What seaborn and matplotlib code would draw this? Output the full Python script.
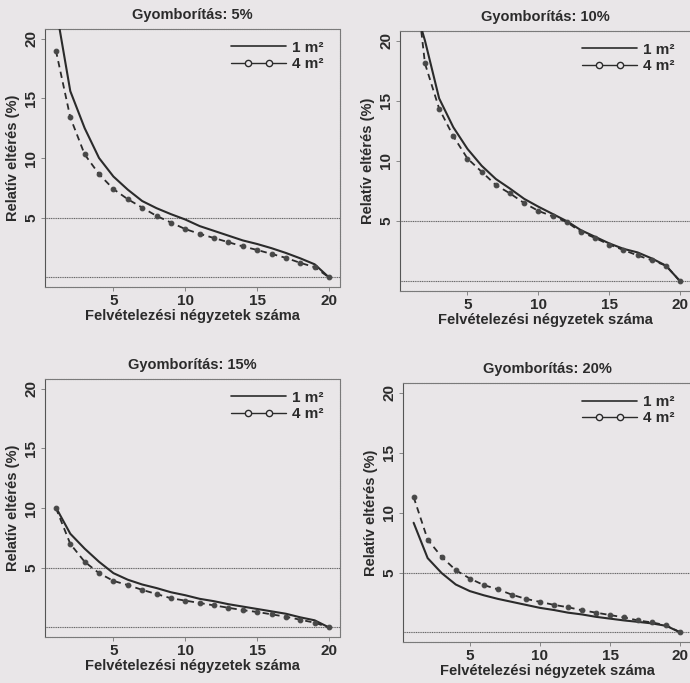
import matplotlib
matplotlib.use("Agg")
import matplotlib.pyplot as plt
from matplotlib.lines import Line2D
from matplotlib.legend_handler import HandlerLine2D, HandlerTuple
import seaborn as sns
import pandas as pd

sns.set_theme(style="white")
plt.rcParams["font.family"] = ["Liberation Sans", "DejaVu Sans"]
plt.rcParams["font.weight"] = "bold"

# Number of sampling quadrats
quadrats = list(range(1, 21))

# Relative deviation (%) for 1 m2 and 4 m2 quadrats, by weed cover
cover_titles = ["Gyomborítás: 5%", "Gyomborítás: 10%",
                "Gyomborítás: 15%", "Gyomborítás: 20%"]

dev_5_1m = [22.6, 15.6, 12.5, 10.0, 8.45, 7.35, 6.4, 5.8, 5.3, 4.85,
            4.3, 3.9, 3.5, 3.1, 2.8, 2.45, 2.05, 1.6, 1.1, 0.0]
dev_5_4m = [19.0, 13.4, 10.3, 8.65, 7.4, 6.55, 5.85, 5.15, 4.6, 4.05,
            3.65, 3.3, 2.95, 2.6, 2.3, 1.97, 1.64, 1.22, 0.86, 0.0]

dev_10_1m = [24.0, 20.0, 15.2, 12.8, 11.0, 9.6, 8.5, 7.7, 6.85, 6.2,
             5.6, 5.0, 4.25, 3.7, 3.15, 2.7, 2.4, 1.9, 1.3, 0.0]
dev_10_4m = [28.5, 18.1, 14.35, 12.05, 10.2, 9.1, 8.0, 7.3, 6.5, 5.85,
             5.4, 4.93, 4.1, 3.6, 3.05, 2.6, 2.15, 1.75, 1.3, 0.0]

dev_15_1m = [10.05, 7.85, 6.6, 5.5, 4.55, 4.0, 3.6, 3.3, 2.95, 2.7,
             2.4, 2.2, 1.95, 1.75, 1.55, 1.35, 1.15, 0.85, 0.6, 0.0]
dev_15_4m = [10.0, 7.0, 5.5, 4.55, 3.9, 3.55, 3.15, 2.8, 2.45, 2.25,
             2.05, 1.85, 1.65, 1.45, 1.3, 1.1, 0.9, 0.65, 0.4, 0.0]

dev_20_1m = [9.15, 6.2, 4.95, 4.0, 3.45, 3.1, 2.8, 2.55, 2.3, 2.05,
             1.87, 1.65, 1.5, 1.3, 1.15, 1.0, 0.88, 0.75, 0.55, 0.0]
dev_20_4m = [11.3, 7.75, 6.3, 5.2, 4.5, 3.95, 3.6, 3.15, 2.8, 2.55,
             2.3, 2.1, 1.85, 1.65, 1.45, 1.25, 1.0, 0.83, 0.6, 0.0]

series_1m = [dev_5_1m, dev_10_1m, dev_15_1m, dev_20_1m]
series_4m = [dev_5_4m, dev_10_4m, dev_15_4m, dev_20_4m]

x_ticks = [5, 10, 15, 20]
y_ticks = [5, 10, 15, 20]
ref_levels = [5, 0]
legend_labels = ["1 m²", "4 m²"]

paper = "#e9e6e8"
ink = "#2b2b2b"

fig = plt.figure(figsize=(6.9, 6.83), dpi=100, facecolor=paper)

# [left, bottom, width, height] of each panel
boxes = [
    [0.0652, 0.5798, 0.4275, 0.3777],
    [0.5797, 0.5740, 0.4217, 0.3807],
    [0.0652, 0.0673, 0.4275, 0.3777],
    [0.5840, 0.0600, 0.4174, 0.3790],
]

for box, title, s1, s4 in zip(boxes, cover_titles, series_1m, series_4m):
    ax = fig.add_axes(box)
    ax.set_facecolor(paper)
    df = pd.DataFrame({"n": quadrats, "m1": s1, "m4": s4})

    for lvl in ref_levels:
        ax.axhline(lvl, color="#666666", lw=0.8, ls=(0, (1, 0.6)), zorder=1)

    sns.lineplot(data=df, x="n", y="m1", ax=ax, color=ink, lw=1.5,
                 linestyle="-", zorder=3)
    sns.lineplot(data=df, x="n", y="m4", ax=ax, color=ink, lw=1.3,
                 linestyle=(0, (3.5, 2.5)), marker="o", markersize=3.4,
                 markerfacecolor="#474747", markeredgecolor="#474747",
                 zorder=3)

    ax.set_xlim(0.24, 20.76)
    ax.set_ylim(-0.8, 20.8)
    ax.set_xticks(x_ticks)
    ax.set_yticks(y_ticks)
    ax.set_xticklabels([str(v) for v in x_ticks], fontsize=11, fontweight="bold", color=ink)
    ax.set_yticklabels([str(v) for v in y_ticks], fontsize=11, fontweight="bold",
                       rotation=90, va="center", color=ink)
    ax.tick_params(axis="both", length=3, width=0.6, color="#777777",
                   direction="out", pad=2, bottom=True, left=True)

    for side, sp in ax.spines.items():
        sp.set_color("#7a7a7a")
        sp.set_linewidth(0.8)
        if side in ("top", "bottom", "right"):
            sp.set_linestyle((0, (1, 0.6)))
    ax.spines["left"].set_color("#555555")

    ax.set_title(title, fontsize=10.5, fontweight="bold", color=ink, pad=7)
    ax.set_xlabel("Felvételezési négyzetek száma", fontsize=10.5,
                  fontweight="bold", color=ink, labelpad=1)
    ax.set_ylabel("Relatív eltérés (%)", fontsize=10.5, fontweight="bold",
                  color=ink, labelpad=3)

    # Legend keys: plain line, and a line with two open circles on it
    h1 = Line2D([], [], color=ink, lw=1.2)
    h4_line = Line2D([], [], color=ink, lw=1.0)
    h4_marks = Line2D([], [], linestyle="none", marker="o", markersize=4.5,
                      markerfacecolor=paper, markeredgecolor=ink,
                      markeredgewidth=1.0)
    leg = ax.legend([h1, (h4_line, h4_marks)], legend_labels, loc="upper right",
                    bbox_to_anchor=(0.975, 0.99),
                    frameon=False, handlelength=3.6,
                    handletextpad=0.4, labelspacing=0.15,
                    borderaxespad=0.2, prop={"weight": "bold", "size": 11},
                    handler_map={tuple: HandlerTuple(ndivide=1),
                                 h4_marks: HandlerLine2D(numpoints=2, marker_pad=1.1)})
    for t in leg.get_texts():
        t.set_color(ink)

fig.savefig("out.png", dpi=100, facecolor=paper)
